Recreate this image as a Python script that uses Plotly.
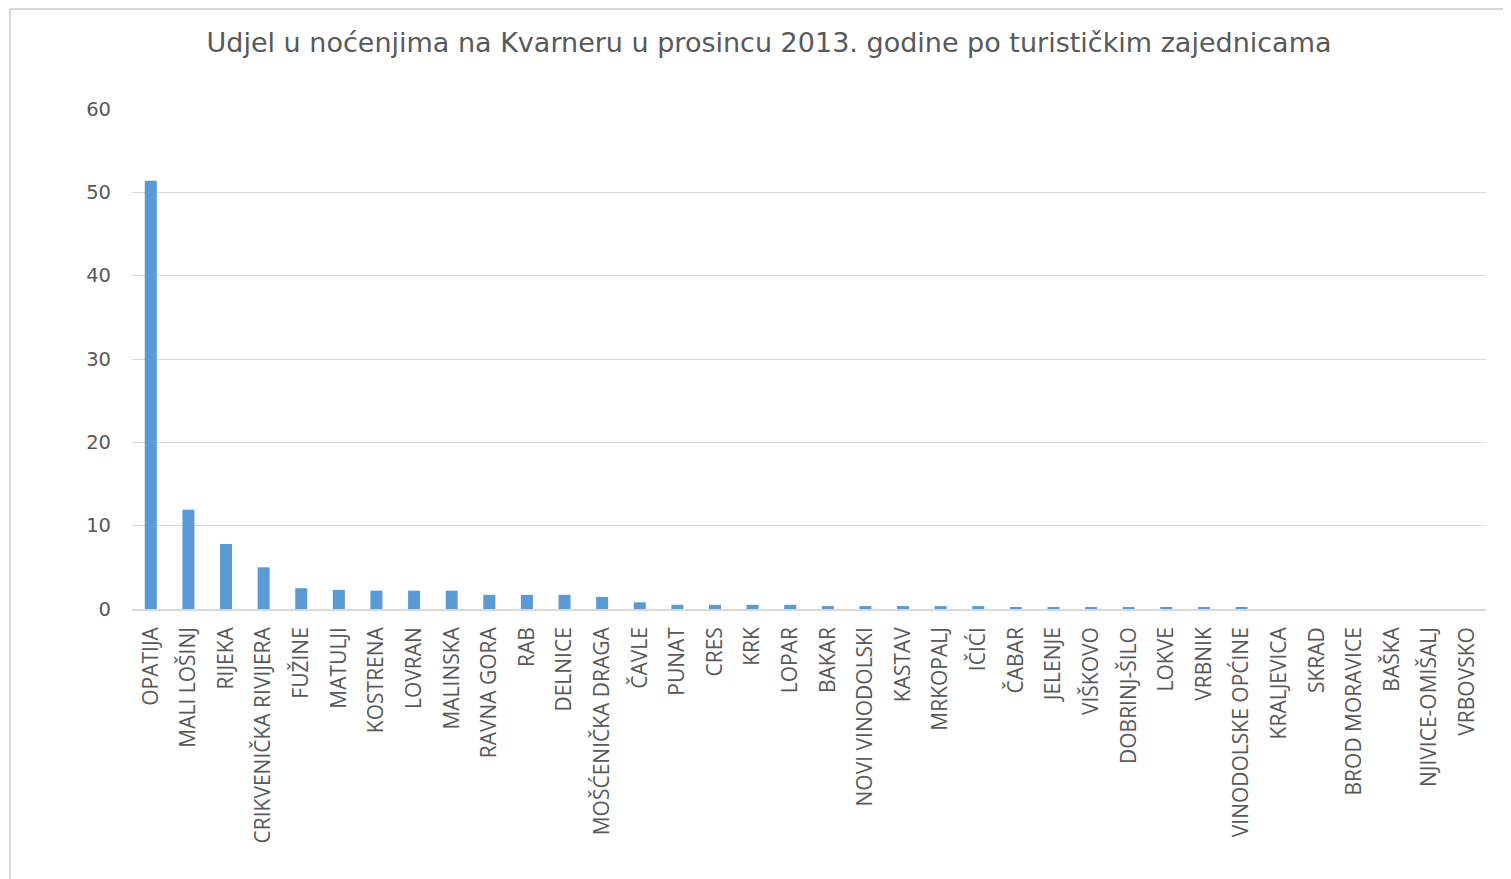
import plotly.graph_objects as go

categories = ["OPATIJA", "MALI LOŠINJ", "RIJEKA", "CRIKVENIČKA RIVIJERA", "FUŽINE", "MATULJI",
              "KOSTRENA", "LOVRAN", "MALINSKA", "RAVNA GORA", "RAB", "DELNICE",
              "MOŠĆENIČKA DRAGA", "ČAVLE", "PUNAT", "CRES", "KRK", "LOPAR", "BAKAR",
              "NOVI VINODOLSKI", "KASTAV", "MRKOPALJ", "IČIĆI", "ČABAR", "JELENJE", "VIŠKOVO",
              "DOBRINJ-ŠILO", "LOKVE", "VRBNIK", "VINODOLSKE OPĆINE", "KRALJEVICA", "SKRAD",
              "BROD MORAVICE", "BAŠKA", "NJIVICE-OMIŠALJ", "VRBOVSKO"]
values = [51.4, 11.9, 7.8, 5.0, 2.5, 2.3, 2.2, 2.2, 2.2, 1.7, 1.7, 1.7,
          1.45, 0.8, 0.5, 0.5, 0.5, 0.5, 0.35, 0.35, 0.35, 0.35, 0.35, 0.2, 0.2, 0.2,
          0.15, 0.15, 0.15, 0.15, 0.0, 0.0, 0.0, 0.0, 0.0, 0.0]
y_ticks = [0, 10, 20, 30, 40, 50, 60]

title_text = "Udjel u noćenjima na Kvarneru u prosincu 2013. godine po turističkim zajednicama"

OFF = 8  # page body offset
W, H = 1511, 879
L, T = 132 - OFF, 109 - OFF
pw, ph = 1354, 500
R = W - L - pw
B = H - T - ph

fig = go.Figure(go.Bar(x=categories, y=values, marker=dict(color="#5B9BD5", line=dict(width=0))))

fig.update_layout(
    width=W, height=H,
    margin=dict(l=L, r=R, t=T, b=B, autoexpand=False),
    paper_bgcolor="white", plot_bgcolor="white",
    bargap=0.68,
    showlegend=False,
    title=dict(text=title_text, x=(769 - OFF - L) / pw, xref="paper", xanchor="center",
               y=1 - (43 - OFF) / H, yanchor="middle",
               font=dict(family="DejaVu Sans", size=27, color="#595959")),
    xaxis=dict(tickangle=-90, tickfont=dict(family="Open Sans", size=21, color="#595959"),
               showgrid=False, showline=True, linecolor="#D9D9D9", linewidth=1.5,
               ticks="", ticklabelstandoff=8, fixedrange=True),
    yaxis=dict(range=[0, 60], tickvals=y_ticks, ticktext=[str(v) for v in y_ticks],
               tickfont=dict(family="DejaVu Sans", size=19.5, color="#595959"),
               showgrid=True, gridcolor="#D9D9D9", gridwidth=1, zeroline=False,
               ticks="", ticklabelstandoff=20, showline=False, fixedrange=True),
    shapes=[
        dict(type="line", xref="paper", yref="paper",
             x0=(2 - L) / pw, x1=(W + 5 - L) / pw, y0=(ph + T - 1) / ph, y1=(ph + T - 1) / ph,
             line=dict(color="#D9D9D9", width=2)),
        dict(type="line", xref="paper", yref="paper",
             x0=(2 - L) / pw, x1=(2 - L) / pw, y0=(ph + T - 1) / ph, y1=-(B + 5) / ph,
             line=dict(color="#D9D9D9", width=2)),
    ],
)

fig.write_html("out.html")
